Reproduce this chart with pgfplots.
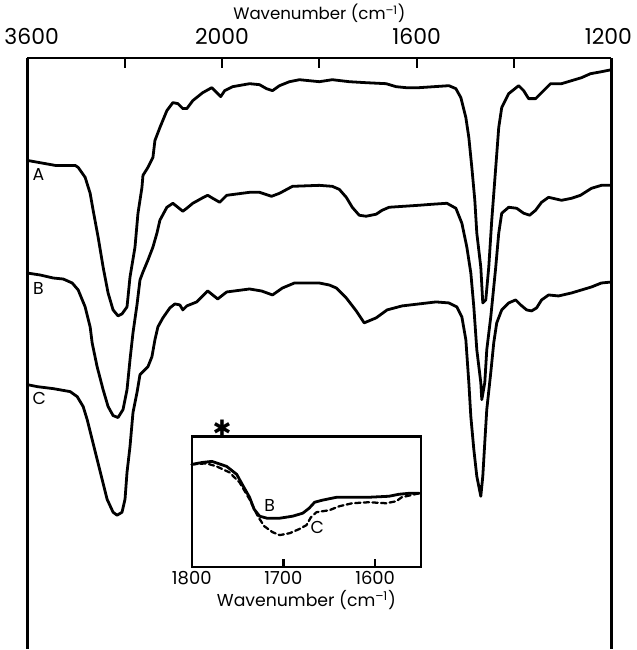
\documentclass[border=0pt]{standalone}
\usepackage{pgfplots}
\pgfplotsset{compat=1.18}
\usepackage{fontspec}
\setmainfont{Poppins}
\newfontfamily\dejavu{DejaVu Sans}
\begin{document}
\begin{tikzpicture}
\pgfplotsset{
  spec/.style={black, line width=2.1pt, line join=round, line cap=round, no marks},
}
% ---------------- main axis (x in figure units, y = relative transmittance) ----------------
\begin{axis}[
  at={(0,0)}, anchor=south west,
  scale only axis, width=439.5pt, height=444.75pt,
  xmin=27, xmax=613, ymin=0, ymax=593,
  axis x line=top, axis y line=box,
  axis line style={-, line width=1.9pt},
  xtick={27,124.7,222.3,320,417.7,515.3,613},
  xticklabels={3600,,2000,,1600,,1200},
  ytick=\empty,
  tick align=inside,
  major tick length=8pt,
  every tick/.style={black, line width=1.7pt},
  /pgf/number format/assume math mode=true,
  ticklabel style={font=\fontsize{16.5}{16.5}\selectfont},
  xticklabel style={xshift={ifthenelse(\ticknum==0,3.2,ifthenelse(\ticknum==6,-2.2,0))*1pt}},
  xticklabel shift=6.5pt,
  xlabel={Wavenumber (cm\textsuperscript{–1})},
  xlabel style={font=\fontsize{12.5}{12.5}\selectfont, yshift=-3pt},
  clip=false,
]
% spectrum A
\addplot[spec] coordinates {
(27,490)(55,485)(75,485)(78,483)(85,473)(90,457)(93,440)(98,413)(103,383)(108,357)(113,340)(118,334)(122,336)(127,343)(130,373)(135,403)(138,437)(142,463)(143,475)(148,483)(153,493)(155,510)(160,523)(167,540)(173,548)(178,547)(183,542)(187,542)(193,550)(203,558)(212,563)(217,558)(221,554)(225,560)(233,564)(250,567)(260,566)(267,562)(273,560)(280,565)(290,569)(300,571)(320,569)(333,571)(350,569)(367,568)(387,567)(397,564)(407,563)(420,563)(450,565)(457,562)(462,553)(467,533)(470,513)(473,483)(476,450)(478,417)(482,383)(484,347)(487,350)(490,383)(493,430)(497,483)(500,523)(503,543)(510,557)(520,565)(525,560)(530,552)(537,552)(543,558)(552,567)(563,567)(573,570)(583,573)(592,577)(603,579)(613,581)
};
% spectrum B
\addplot[spec] coordinates {
(27,377)(40,375)(53,372)(63,371)(72,367)(78,360)(85,343)(90,323)(92,307)(97,283)(103,260)(108,243)(113,234)(118,232)(123,240)(127,260)(130,290)(133,317)(137,345)(140,370)(143,378)(148,390)(153,403)(157,417)(160,430)(167,443)(173,447)(178,443)(183,439)(187,442)(193,447)(202,452)(208,455)(213,452)(220,448)(227,455)(250,458)(260,458)(272,454)(280,457)(293,464)(320,465)(333,464)(340,461)(347,453)(353,443)(360,435)(367,434)(377,436)(383,440)(390,443)(420,445)(433,446)(448,447)(457,442)(463,427)(468,403)(472,377)(475,343)(478,300)(482,267)(483,250)(486,267)(488,300)(492,333)(497,383)(500,417)(503,437)(510,443)(518,442)(525,437)(531,435)(537,440)(543,448)(550,453)(563,450)(573,452)(582,455)(593,462)(603,465)(613,465)
};
% spectrum C
\addplot[spec] coordinates {
(27,265)(37,263)(53,261)(70,258)(77,253)(83,243)(87,230)(92,210)(97,190)(102,170)(107,150)(113,137)(117,134)(122,137)(125,150)(127,177)(130,203)(133,237)(137,257)(140,275)(143,278)(148,283)(152,293)(155,310)(158,323)(163,332)(170,342)(175,346)(180,345)(183,340)(187,344)(197,348)(208,359)(218,351)(227,358)(250,361)(262,359)(273,355)(283,362)(295,367)(320,367)(330,365)(337,362)(347,352)(357,339)(365,327)(377,332)(388,340)(403,344)(420,346)(437,348)(450,347)(458,343)(463,333)(467,310)(470,267)(472,233)(475,200)(478,173)(482,153)(484,173)(486,207)(488,240)(492,277)(495,307)(498,327)(503,340)(510,347)(517,350)(522,345)(528,340)(533,339)(538,342)(543,350)(550,355)(560,354)(573,357)(583,360)(593,363)(603,367)(613,368)
};
\node[font=\fontsize{13}{13}\selectfont] at (axis cs:38,476) {A};
\node[font=\fontsize{13}{13}\selectfont] at (axis cs:38,361) {B};
\node[font=\fontsize{13}{13}\selectfont] at (axis cs:39,251) {C};
\end{axis}
% ---------------- inset ----------------
\begin{axis}[
  at={(123.75pt,61.5pt)}, anchor=south west,
  scale only axis, width=172.5pt, height=98.25pt,
  xmin=1550, xmax=1800, x dir=reverse,
  ymin=0, ymax=131,
  axis line style={-, line width=1.9pt},
  xtick={1800,1700,1600}, xtick pos=bottom,
  ytick=\empty,
  tick align=inside,
  major tick length=6pt,
  every tick/.style={black, line width=1.7pt},
  /pgf/number format/assume math mode=true,
  /pgf/number format/1000 sep={},
  ticklabel style={font=\fontsize{13.5}{13.5}\selectfont},
  xlabel={Wavenumber (cm\textsuperscript{–1})},
  xlabel style={font=\fontsize{13}{13}\selectfont, yshift=3pt},
  clip=false,
]
\addplot[spec] coordinates {
(1800,103)(1788,105)(1778,106)(1762,101)(1751,93)(1745,83)(1737,70)(1732,58)(1726,51)(1718,49)(1704,49)(1690,51)(1679,54)(1672,59)(1666,65)(1658,67)(1642,70)(1625,70)(1607,70)(1585,71)(1574,73)(1563,74)(1552,74)
};
\addplot[spec, line width=1.7pt, dash pattern=on 4pt off 2.5pt] coordinates {
(1800,103)(1784,104)(1773,101)(1759,95)(1748,85)(1737,68)(1728,51)(1721,41)(1712,35)(1704,32)(1693,34)(1683,38)(1675,42)(1670,50)(1664,55)(1650,57)(1639,61)(1625,64)(1607,65)(1588,64)(1577,66)(1571,70)(1552,74)
};
\node[font=\fontsize{13}{13}\selectfont] at (axis cs:1715,62) {B};
\node[font=\fontsize{13}{13}\selectfont] at (axis cs:1663,40) {C};
\node[font=\dejavu\fontsize{17}{17}\selectfont] at (axis cs:1767,139) {✱};
\end{axis}
\end{tikzpicture}
\end{document}
